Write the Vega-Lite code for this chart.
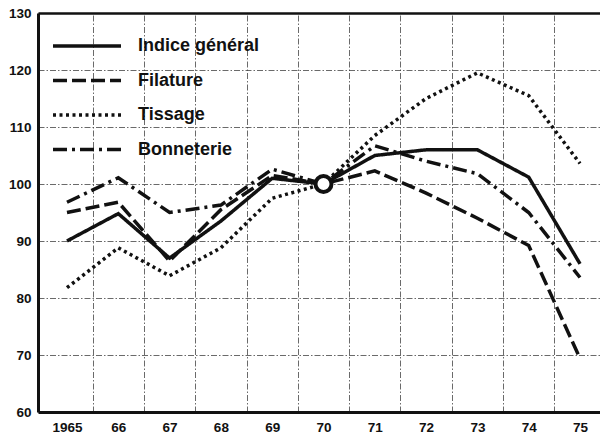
{
  "$schema": "https://vega.github.io/schema/vega-lite/v6.json",
  "width": 562,
  "height": 399,
  "autosize": {"type": "none"},
  "padding": {"left": 38, "top": 13, "right": 0, "bottom": 24},
  "background": "white",
  "config": {
    "view": {"stroke": null},
    "font": "Liberation Sans, Arial, sans-serif"
  },
  "datasets": {
    "lines": [
      {"series": "Indice général", "year": 1965, "value": 90},
      {"series": "Indice général", "year": 1966, "value": 94.8},
      {"series": "Indice général", "year": 1967, "value": 87},
      {"series": "Indice général", "year": 1968, "value": 93.5},
      {"series": "Indice général", "year": 1969, "value": 101},
      {"series": "Indice général", "year": 1970, "value": 100},
      {"series": "Indice général", "year": 1971, "value": 105},
      {"series": "Indice général", "year": 1972, "value": 106},
      {"series": "Indice général", "year": 1973, "value": 106},
      {"series": "Indice général", "year": 1974, "value": 101.2},
      {"series": "Indice général", "year": 1975, "value": 86},
      {"series": "Filature", "year": 1965, "value": 95},
      {"series": "Filature", "year": 1966, "value": 96.8},
      {"series": "Filature", "year": 1967, "value": 86.5},
      {"series": "Filature", "year": 1968, "value": 95.5},
      {"series": "Filature", "year": 1969, "value": 101.5},
      {"series": "Filature", "year": 1970, "value": 100},
      {"series": "Filature", "year": 1971, "value": 102.3},
      {"series": "Filature", "year": 1972, "value": 98.4},
      {"series": "Filature", "year": 1973, "value": 94},
      {"series": "Filature", "year": 1974, "value": 89.2},
      {"series": "Filature", "year": 1975, "value": 69.4},
      {"series": "Tissage", "year": 1965, "value": 81.8},
      {"series": "Tissage", "year": 1966, "value": 88.8},
      {"series": "Tissage", "year": 1967, "value": 83.9},
      {"series": "Tissage", "year": 1968, "value": 88.8},
      {"series": "Tissage", "year": 1969, "value": 97.5},
      {"series": "Tissage", "year": 1970, "value": 100},
      {"series": "Tissage", "year": 1971, "value": 108.5},
      {"series": "Tissage", "year": 1972, "value": 115},
      {"series": "Tissage", "year": 1973, "value": 119.5},
      {"series": "Tissage", "year": 1974, "value": 115.5},
      {"series": "Tissage", "year": 1975, "value": 103.6},
      {"series": "Bonneterie", "year": 1965, "value": 96.8},
      {"series": "Bonneterie", "year": 1966, "value": 101.1},
      {"series": "Bonneterie", "year": 1967, "value": 95},
      {"series": "Bonneterie", "year": 1968, "value": 96.3},
      {"series": "Bonneterie", "year": 1969, "value": 102.6},
      {"series": "Bonneterie", "year": 1970, "value": 100},
      {"series": "Bonneterie", "year": 1971, "value": 106.7},
      {"series": "Bonneterie", "year": 1972, "value": 104},
      {"series": "Bonneterie", "year": 1973, "value": 101.8},
      {"series": "Bonneterie", "year": 1974, "value": 95},
      {"series": "Bonneterie", "year": 1975, "value": 83.6}
    ],
    "base": [
      {"year": 1970, "value": 100}
    ]
  },
  "resolve": {"axis": {"x": "independent", "y": "independent"}},
  "layer": [
    {
      "data": {"name": "lines"},
      "mark": {"type": "line", "stroke": "#111111", "strokeWidth": 3.5, "strokeJoin": "miter"},
      "encoding": {
        "x": {
          "field": "year",
          "type": "quantitative",
          "scale": {"domain": [1964.435, 1975.39], "nice": false, "zero": false},
          "axis": {
            "title": null,
            "orient": "bottom",
            "values": [1965, 1966, 1967, 1968, 1969, 1970, 1971, 1972, 1973, 1974, 1975],
            "labelExpr": "datum.value == 1965 ? '1965' : substring(toString(datum.value), 2, 4)",
            "labelFontSize": 13.5,
            "labelFontWeight": "bold",
            "labelColor": "#111111",
            "labelPadding": 8,
            "labelFlush": false,
            "labelOverlap": false,
            "ticks": false,
            "domain": true,
            "domainColor": "#111111",
            "domainWidth": 3,
            "grid": false
          }
        },
        "y": {
          "field": "value",
          "type": "quantitative",
          "scale": {"domain": [60, 130], "nice": false, "zero": false},
          "axis": {
            "title": null,
            "orient": "left",
            "values": [60, 70, 80, 90, 100, 110, 120, 130],
            "labelFontSize": 13.5,
            "labelFontWeight": "bold",
            "labelColor": "#111111",
            "labelPadding": 7,
            "labelFlush": false,
            "labelOverlap": false,
            "ticks": false,
            "domain": true,
            "domainColor": "#111111",
            "domainWidth": 3,
            "grid": true,
            "gridColor": "#444444",
            "gridWidth": 0.8,
            "gridDash": [6, 2, 1.5, 2]
          }
        },
        "strokeDash": {
          "field": "series",
          "type": "nominal",
          "scale": {
            "domain": ["Indice général", "Filature", "Tissage", "Bonneterie"],
            "range": [[1, 0], [14, 5], [3, 3.5], [14, 5, 3, 5]]
          },
          "legend": {
            "title": null,
            "orient": "none",
            "legendX": 13,
            "legendY": 21,
            "clipHeight": 24,
            "symbolType": "stroke",
            "symbolSize": 4624,
            "symbolStrokeWidth": 3.5,
            "symbolStrokeColor": "#111111",
            "labelFontSize": 18,
            "labelFontWeight": "bold",
            "labelColor": "#111111",
            "labelOffset": 15,
            "rowPadding": 10.5,
            "labelLimit": 300
          }
        }
      }
    },
    {
      "data": {"name": "base"},
      "mark": {"type": "point", "shape": "circle", "filled": true, "fill": "white", "stroke": "#111111", "strokeWidth": 4, "size": 256, "opacity": 1},
      "encoding": {
        "x": {
          "field": "year",
          "type": "quantitative",
          "axis": {
            "title": null,
            "orient": "top",
            "values": [1965.5, 1966.5, 1967.5, 1968.5, 1969.5, 1970.5, 1971.5, 1972.5, 1973.5, 1974.5],
            "labels": false,
            "ticks": false,
            "domain": true,
            "domainColor": "#111111",
            "domainWidth": 2.5,
            "grid": true,
            "gridColor": "#444444",
            "gridWidth": 0.8,
            "gridDash": [6, 2, 1.5, 2]
          }
        },
        "y": {"field": "value", "type": "quantitative", "axis": null}
      }
    }
  ]
}
